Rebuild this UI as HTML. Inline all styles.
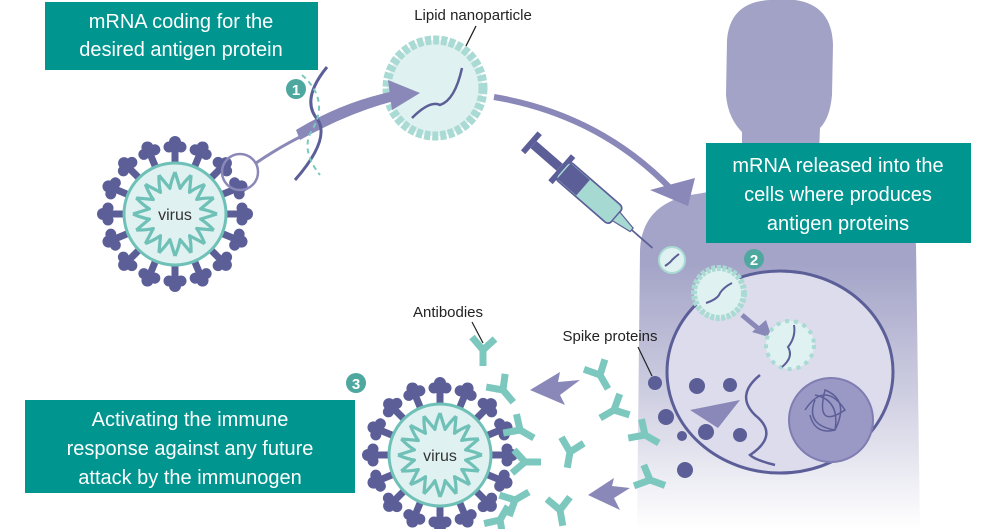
<!DOCTYPE html>
<html><head><meta charset="utf-8"><style>
html,body{margin:0;padding:0;background:#fff;width:1000px;height:529px;overflow:hidden}
svg{display:block}
text{font-family:"Liberation Sans",sans-serif}
</style></head><body>
<svg width="1000" height="529" viewBox="0 0 1000 529" xmlns="http://www.w3.org/2000/svg">
<defs>
<linearGradient id="bg" x1="0" y1="0" x2="0" y2="1">
<stop offset="0" stop-color="#a2a2c6"/><stop offset="0.5" stop-color="#a4a4c8"/><stop offset="0.75" stop-color="#cfcfe2"/><stop offset="1" stop-color="#ffffff"/>
</linearGradient>
<g id="spk" fill="#5c5e98"><rect x="-3.5" y="-64" width="7" height="15"/><circle cx="0" cy="-72" r="6"/><circle cx="-6" cy="-67" r="5.5"/><circle cx="6" cy="-67" r="5.5"/><circle cx="0" cy="-66" r="5"/></g>
<path id="wv" d="M0,-42 Q2.8,-33 5.1,-25.6 Q9,-32 16.1,-38.8" fill="none" stroke="#6fc1b8" stroke-width="3.2" stroke-linejoin="round"/>
<g id="ab" stroke="#7cc8be" stroke-width="7" fill="none"><path d="M0,0 L0,16 M0,0 L-11,-13 M0,0 L12,-11"/></g>
<g id="virus">
<g><use href="#spk"/></g><g transform="rotate(22.5)"><use href="#spk"/></g><g transform="rotate(45)"><use href="#spk"/></g><g transform="rotate(67.5)"><use href="#spk"/></g><g transform="rotate(90)"><use href="#spk"/></g><g transform="rotate(112.5)"><use href="#spk"/></g><g transform="rotate(135)"><use href="#spk"/></g><g transform="rotate(157.5)"><use href="#spk"/></g><g transform="rotate(180)"><use href="#spk"/></g><g transform="rotate(202.5)"><use href="#spk"/></g><g transform="rotate(225)"><use href="#spk"/></g><g transform="rotate(247.5)"><use href="#spk"/></g><g transform="rotate(270)"><use href="#spk"/></g><g transform="rotate(292.5)"><use href="#spk"/></g><g transform="rotate(315)"><use href="#spk"/></g><g transform="rotate(337.5)"><use href="#spk"/></g>
<circle r="51" fill="#dff1f0" stroke="#6fc1b8" stroke-width="3"/>
<g><use href="#wv"/></g><g transform="rotate(22.5)"><use href="#wv"/></g><g transform="rotate(45)"><use href="#wv"/></g><g transform="rotate(67.5)"><use href="#wv"/></g><g transform="rotate(90)"><use href="#wv"/></g><g transform="rotate(112.5)"><use href="#wv"/></g><g transform="rotate(135)"><use href="#wv"/></g><g transform="rotate(157.5)"><use href="#wv"/></g><g transform="rotate(180)"><use href="#wv"/></g><g transform="rotate(202.5)"><use href="#wv"/></g><g transform="rotate(225)"><use href="#wv"/></g><g transform="rotate(247.5)"><use href="#wv"/></g><g transform="rotate(270)"><use href="#wv"/></g><g transform="rotate(292.5)"><use href="#wv"/></g><g transform="rotate(315)"><use href="#wv"/></g><g transform="rotate(337.5)"><use href="#wv"/></g>
<text x="0" y="6" text-anchor="middle" font-size="16" fill="#333">virus</text>
</g>
</defs>

<!-- silhouette -->
<path d="M727,40 Q730,2 770,0 L795,0 Q832,5 833,45 L832,95 Q830,118 820,128 L818,178 Q822,188 860,195 Q912,205 916,245 L920,529 L637,529 L640,250 Q642,205 690,195 Q738,188 742,178 L742,132 Q728,118 726,95 Z" fill="url(#bg)"/>

<!-- boxes -->
<rect x="45" y="2" width="273" height="68" fill="#00958f"/>
<text x="181" y="28" text-anchor="middle" font-size="20" fill="#fff">mRNA coding for the</text>
<text x="181" y="56" text-anchor="middle" font-size="20" fill="#fff">desired antigen protein</text>
<rect x="706" y="143" width="265" height="100" fill="#00958f"/>
<text x="838" y="172" text-anchor="middle" font-size="20" fill="#fff">mRNA released into the</text>
<text x="838" y="201" text-anchor="middle" font-size="20" fill="#fff">cells where produces</text>
<text x="838" y="230" text-anchor="middle" font-size="20" fill="#fff">antigen proteins</text>
<rect x="25" y="400" width="330" height="93" fill="#00958f"/>
<text x="190" y="426" text-anchor="middle" font-size="20" fill="#fff">Activating the immune</text>
<text x="190" y="455" text-anchor="middle" font-size="20" fill="#fff">response against any future</text>
<text x="190" y="484" text-anchor="middle" font-size="20" fill="#fff">attack by the immunogen</text>

<!-- numbers -->
<circle cx="296" cy="89" r="10" fill="#4fa89f"/><text x="296" y="95" text-anchor="middle" font-size="15" font-weight="bold" fill="#fff">1</text>
<circle cx="754" cy="259" r="10" fill="#4fa89f"/><text x="754" y="265" text-anchor="middle" font-size="15" font-weight="bold" fill="#fff">2</text>
<circle cx="356" cy="383" r="10" fill="#4fa89f"/><text x="356" y="389" text-anchor="middle" font-size="15" font-weight="bold" fill="#fff">3</text>

<!-- virus 1 -->
<use href="#virus" transform="translate(175,214)"/>
<circle cx="240" cy="172" r="18" fill="none" stroke="#8a88b8" stroke-width="2.5"/>

<!-- LNP -->
<circle cx="435" cy="88" r="48" fill="#dff1f0" stroke="#a9dad4" stroke-width="9" stroke-dasharray="6 2"/>
<path d="M412,118 Q430,100 440,105 Q455,100 462,68" fill="none" stroke="#5c5e98" stroke-width="2.5"/>
<text x="473" y="20" text-anchor="middle" font-size="15" fill="#222">Lipid nanoparticle</text>
<line x1="476" y1="26" x2="466" y2="46" stroke="#222" stroke-width="1.3"/>

<!-- arrow 1 (on top of LNP) -->
<path d="M256,163 Q290,140 320,128" fill="none" stroke="#8a88b8" stroke-width="3"/>
<path d="M300,140 Q350,112 398,100 L400,90 Q345,100 296,130 Z" fill="#8a88b8"/>
<polygon points="388,80 420,93 392,110" fill="#8a88b8"/>
<!-- mRNA strand -->
<path d="M327,67 Q300,100 318,120 Q330,140 295,180" fill="none" stroke="#5c5e98" stroke-width="3"/>
<path d="M302,75 Q330,100 312,130 Q300,150 320,175" fill="none" stroke="#7cc8be" stroke-width="2" stroke-dasharray="5 4"/>

<!-- arrow 2 -->
<path d="M494,97 Q600,115 672,190" fill="none" stroke="#8a88b8" stroke-width="6"/>
<polygon points="650,190 695,178 688,206" fill="#8a88b8"/>

<!-- syringe -->
<g transform="translate(530,140) rotate(41) scale(1.15)">
<rect x="0" y="-10" width="5" height="22" fill="#5c5e98"/>
<rect x="5" y="-3" width="30" height="8" fill="#5c5e98"/>
<rect x="35" y="-14" width="5" height="30" fill="#5c5e98"/>
<rect x="38" y="-9" width="62" height="20" rx="4" fill="#a6d9d2" stroke="#5c5e98" stroke-width="1.5"/>
<rect x="40" y="-8" width="22" height="18" fill="#5c5e98"/>
<polygon points="100,-4 118,-1 118,3 100,6" fill="#a6d9d2" stroke="#5c5e98"/>
<line x1="118" y1="1" x2="142" y2="1" stroke="#5c5e98" stroke-width="1.5"/>
</g>

<!-- cell -->
<ellipse cx="780" cy="372" rx="113" ry="101" fill="#dcdcec" stroke="#5c5e98" stroke-width="3"/>
<circle cx="831" cy="420" r="42" fill="#9a98c4" stroke="#7f7db2" stroke-width="2"/>
<path d="M805,410 q20,-30 40,0 q-30,20 -20,-20 q25,10 10,40 q-30,-5 -20,-30 M815,395 q25,5 20,35 q-20,5 -25,-15" fill="none" stroke="#5c5e98" stroke-width="1.5"/>
<circle cx="672" cy="260" r="13" fill="#dff1f0" stroke="#a9dad4" stroke-width="2"/>
<path d="M665,266 q6,-4 7,-6 q3,-3 7,-6" fill="none" stroke="#5c5e98" stroke-width="2"/>
<circle cx="719" cy="293" r="25" fill="#dff1f0" stroke="#a9dad4" stroke-width="6" stroke-dasharray="4 1.5"/>
<path d="M706,303 q12,-4 14,-10 q4,-6 12,-10" fill="none" stroke="#5c5e98" stroke-width="2"/>
<line x1="742" y1="315" x2="760" y2="330" stroke="#8a88b8" stroke-width="5"/>
<polygon points="752,332 772,338 766,320" fill="#8a88b8"/>
<circle cx="790" cy="345" r="24" fill="#dff1f0" stroke="#a9dad4" stroke-width="4" stroke-dasharray="4 5"/>
<path d="M782,367 q12,-10 6,-20 q8,-10 6,-22" fill="none" stroke="#5c5e98" stroke-width="2"/>
<path d="M760,375 q-25,20 -5,40 q25,20 -5,40 q5,5 25,10" fill="none" stroke="#5c5e98" stroke-width="2.5"/>
<polygon points="740,400 690,410 718,428" fill="#8a88b8"/>
<g fill="#5c5e98">
<circle cx="655" cy="383" r="7"/><circle cx="697" cy="386" r="8"/><circle cx="730" cy="385" r="7"/><circle cx="666" cy="417" r="8"/><circle cx="706" cy="432" r="8"/><circle cx="740" cy="435" r="7"/><circle cx="685" cy="470" r="8"/><circle cx="682" cy="436" r="5"/>
</g>

<!-- labels -->
<text x="610" y="341" text-anchor="middle" font-size="15" fill="#222">Spike proteins</text>
<line x1="638" y1="347" x2="652" y2="376" stroke="#222" stroke-width="1.2"/>
<text x="448" y="317" text-anchor="middle" font-size="15" fill="#222">Antibodies</text>
<line x1="472" y1="322" x2="483" y2="343" stroke="#222" stroke-width="1.2"/>

<!-- virus 2 -->
<use href="#virus" transform="translate(440,455)"/>

<!-- antibodies -->
<use href="#ab" transform="translate(483,350)"/>
<use href="#ab" transform="translate(503,390) rotate(-40)"/>
<use href="#ab" transform="translate(520,430) rotate(-60)"/>
<use href="#ab" transform="translate(525,462) rotate(-90)"/>
<use href="#ab" transform="translate(515,500) rotate(-120)"/>
<use href="#ab" transform="translate(500,520) rotate(-150)"/>
<use href="#ab" transform="translate(600,375) rotate(-30)"/>
<use href="#ab" transform="translate(614,410) rotate(60)"/>
<use href="#ab" transform="translate(570,452) rotate(10)"/>
<use href="#ab" transform="translate(560,510) rotate(-10)"/>
<use href="#ab" transform="translate(645,435) rotate(-60)"/>
<use href="#ab" transform="translate(650,480) rotate(-70)"/>
<!-- arrows left -->
<polygon points="530,390 560,372 558,382 580,380 560,395 565,405" fill="#8a88b8"/>
<polygon points="588,495 614,478 612,486 630,488 614,498 620,510" fill="#8a88b8"/>
</svg>
</body></html>
